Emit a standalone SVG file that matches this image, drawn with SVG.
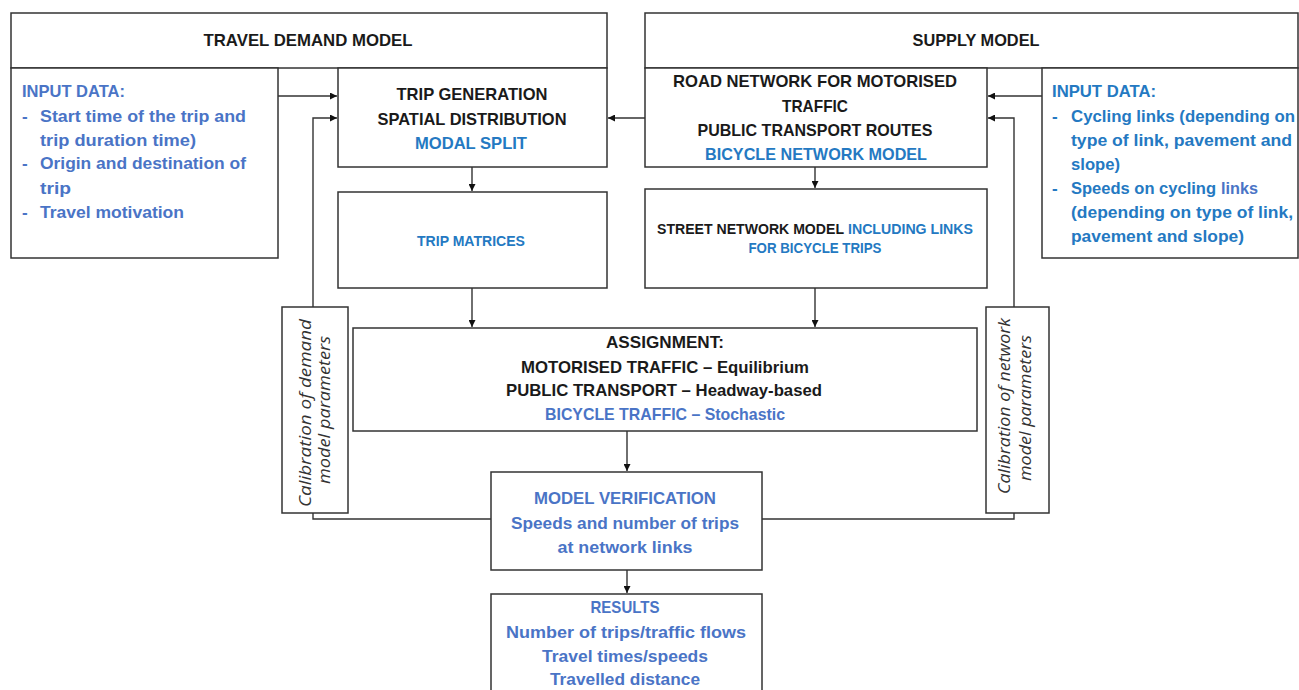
<svg xmlns="http://www.w3.org/2000/svg" width="1299" height="690" viewBox="0 0 1299 690">
<defs>
<style>
.box{fill:#fff;stroke:#333;stroke-width:1.5}
.t{font-family:"Liberation Sans",Arial,sans-serif;font-weight:bold;font-size:17px;fill:#1a1a1a}
.c{text-anchor:middle}
.s{font-size:14px}
.b1{fill:#2479c2}
.b2{fill:#4a74c6}
.cal{font-family:"Open Sans","Liberation Sans",sans-serif;font-style:italic;font-size:17px;fill:#333;text-anchor:middle}
.ln{fill:none;stroke:#333;stroke-width:1.4}
</style>
<marker id="ah" viewBox="0 0 10 10" refX="10" refY="5" markerWidth="7" markerHeight="7" markerUnits="userSpaceOnUse" orient="auto">
<path d="M0,0 L10,5 L0,10 z" fill="#111"/>
</marker>
</defs>
<rect width="1299" height="690" fill="#fff"/>

<g id="connectors">
<path class="ln" d="M278,96 H337" marker-end="url(#ah)"/>
<path class="ln" d="M313,307 V118 H337" marker-end="url(#ah)"/>
<path class="ln" d="M645,118 H608" marker-end="url(#ah)"/>
<path class="ln" d="M1042,96 H988" marker-end="url(#ah)"/>
<path class="ln" d="M1014,307 V118 H988" marker-end="url(#ah)"/>
<path class="ln" d="M472,167 V191" marker-end="url(#ah)"/>
<path class="ln" d="M815,167 V188" marker-end="url(#ah)"/>
<path class="ln" d="M472,288 V327" marker-end="url(#ah)"/>
<path class="ln" d="M815,288 V327" marker-end="url(#ah)"/>
<path class="ln" d="M627,431 V471" marker-end="url(#ah)"/>
<path class="ln" d="M627,570 V593" marker-end="url(#ah)"/>
<path class="ln" d="M491,519 H313 V513"/>
<path class="ln" d="M762,519 H1014 V513"/>
</g>

<g id="demand-header">
<rect class="box" x="11" y="13" width="596" height="55"/>
<text class="t c" x="308" y="46" textLength="209" lengthAdjust="spacingAndGlyphs">TRAVEL DEMAND MODEL</text>
</g>

<g id="supply-header">
<rect class="box" x="645" y="13" width="653" height="55"/>
<text class="t c" x="976" y="46" textLength="127" lengthAdjust="spacingAndGlyphs">SUPPLY MODEL</text>
</g>

<g id="demand-input">
<rect class="box" x="11" y="68" width="267" height="190"/>
<text class="t b2" x="22" y="97" textLength="103" lengthAdjust="spacingAndGlyphs">INPUT DATA:</text>
<text class="t b2" x="22" y="122">-</text>
<text class="t b2" x="40" y="122" textLength="206" lengthAdjust="spacingAndGlyphs">Start time of the trip and</text>
<text class="t b2" x="40" y="146" textLength="156" lengthAdjust="spacingAndGlyphs">trip duration time)</text>
<text class="t b2" x="22" y="169">-</text>
<text class="t b2" x="40" y="169" textLength="206" lengthAdjust="spacingAndGlyphs">Origin and destination of</text>
<text class="t b2" x="40" y="194" textLength="31" lengthAdjust="spacingAndGlyphs">trip</text>
<text class="t b2" x="22" y="218">-</text>
<text class="t b2" x="40" y="218" textLength="144" lengthAdjust="spacingAndGlyphs">Travel motivation</text>
</g>

<g id="trip-generation">
<rect class="box" x="338" y="68" width="269" height="99"/>
<text class="t c" x="472" y="100" textLength="151" lengthAdjust="spacingAndGlyphs">TRIP GENERATION</text>
<text class="t c" x="472" y="125" textLength="189" lengthAdjust="spacingAndGlyphs">SPATIAL DISTRIBUTION</text>
<text class="t c b1" x="471" y="149" textLength="112" lengthAdjust="spacingAndGlyphs">MODAL SPLIT</text>
</g>

<g id="road-network">
<rect class="box" x="645" y="68" width="342" height="99"/>
<text class="t c" x="815" y="87" textLength="284" lengthAdjust="spacingAndGlyphs">ROAD NETWORK FOR MOTORISED</text>
<text class="t c" x="815" y="112" textLength="66" lengthAdjust="spacingAndGlyphs">TRAFFIC</text>
<text class="t c" x="815" y="136" textLength="235" lengthAdjust="spacingAndGlyphs">PUBLIC TRANSPORT ROUTES</text>
<text class="t c b1" x="816" y="160" textLength="222" lengthAdjust="spacingAndGlyphs">BICYCLE NETWORK MODEL</text>
</g>

<g id="supply-input">
<rect class="box" x="1042" y="68" width="256" height="190"/>
<text class="t b1" x="1052" y="97" textLength="104" lengthAdjust="spacingAndGlyphs">INPUT DATA:</text>
<text class="t b1" x="1052" y="122">-</text>
<text class="t b1" x="1071" y="122" textLength="224" lengthAdjust="spacingAndGlyphs">Cycling links (depending on</text>
<text class="t b1" x="1071" y="146" textLength="221" lengthAdjust="spacingAndGlyphs">type of link, pavement and</text>
<text class="t b1" x="1071" y="170" textLength="49" lengthAdjust="spacingAndGlyphs">slope)</text>
<text class="t b1" x="1052" y="194">-</text>
<text class="t b1" x="1071" y="194" textLength="145" lengthAdjust="spacingAndGlyphs">Speeds on cycling</text>
<text class="t b2" x="1221" y="194" textLength="37" lengthAdjust="spacingAndGlyphs">links</text>
<text class="t b1" x="1071" y="218" textLength="222" lengthAdjust="spacingAndGlyphs">(depending on type of link,</text>
<text class="t b1" x="1071" y="242" textLength="173" lengthAdjust="spacingAndGlyphs">pavement and slope)</text>
</g>

<g id="trip-matrices">
<rect class="box" x="338" y="192" width="269" height="96"/>
<text class="t s c b1" x="471" y="246" textLength="108" lengthAdjust="spacingAndGlyphs">TRIP MATRICES</text>
</g>

<g id="street-network">
<rect class="box" x="645" y="189" width="342" height="99"/>
<text class="t s" x="657" y="234" textLength="187" lengthAdjust="spacingAndGlyphs">STREET NETWORK MODEL</text>
<text class="t s b1" x="848" y="234" textLength="125" lengthAdjust="spacingAndGlyphs">INCLUDING LINKS</text>
<text class="t s c b1" x="815" y="253" textLength="133" lengthAdjust="spacingAndGlyphs">FOR BICYCLE TRIPS</text>
</g>

<g id="assignment">
<rect class="box" x="353" y="328" width="624" height="103"/>
<text class="t c" x="665" y="348" textLength="118" lengthAdjust="spacingAndGlyphs">ASSIGNMENT:</text>
<text class="t c" x="665" y="373" textLength="288" lengthAdjust="spacingAndGlyphs">MOTORISED TRAFFIC – Equilibrium</text>
<text class="t c" x="664" y="396" textLength="316" lengthAdjust="spacingAndGlyphs">PUBLIC TRANSPORT – Headway-based</text>
<text class="t c b2" x="665" y="420" textLength="240" lengthAdjust="spacingAndGlyphs">BICYCLE TRAFFIC – Stochastic</text>
</g>

<g id="calibration-demand">
<rect class="box" x="282" y="307" width="66" height="206"/>
<text class="cal" transform="translate(311,413) rotate(-90)" textLength="188" lengthAdjust="spacingAndGlyphs">Calibration of demand</text>
<text class="cal" transform="translate(330,410) rotate(-90)" textLength="148" lengthAdjust="spacingAndGlyphs">model parameters</text>
</g>

<g id="calibration-network">
<rect class="box" x="986" y="307" width="63" height="206"/>
<text class="cal" transform="translate(1010,406) rotate(-90)" textLength="176" lengthAdjust="spacingAndGlyphs">Calibration of network</text>
<text class="cal" transform="translate(1031,408) rotate(-90)" textLength="146" lengthAdjust="spacingAndGlyphs">model parameters</text>
</g>

<g id="model-verification">
<rect class="box" x="491" y="472" width="271" height="98"/>
<text class="t c b2" x="625" y="504" textLength="182" lengthAdjust="spacingAndGlyphs">MODEL VERIFICATION</text>
<text class="t c b2" x="625" y="529" textLength="228" lengthAdjust="spacingAndGlyphs">Speeds and number of trips</text>
<text class="t c b2" x="625" y="553" textLength="135" lengthAdjust="spacingAndGlyphs">at network links</text>
</g>

<g id="results">
<rect class="box" x="491" y="594" width="271" height="110"/>
<text class="t c b2" x="625" y="613" textLength="69" lengthAdjust="spacingAndGlyphs">RESULTS</text>
<text class="t c b2" x="626" y="638" textLength="240" lengthAdjust="spacingAndGlyphs">Number of trips/traffic flows</text>
<text class="t c b2" x="625" y="662" textLength="166" lengthAdjust="spacingAndGlyphs">Travel times/speeds</text>
<text class="t c b2" x="625" y="685" textLength="150" lengthAdjust="spacingAndGlyphs">Travelled distance</text>
</g>
</svg>
